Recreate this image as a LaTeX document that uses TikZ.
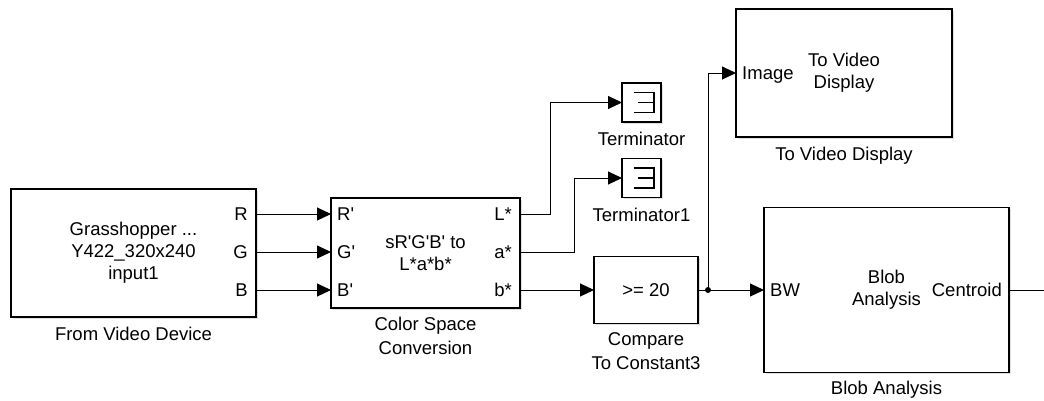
\documentclass[tikz,border=0pt]{standalone}
\usepackage{fontspec}
\setmainfont{Liberation Sans}
\usetikzlibrary{positioning, arrows.meta, shadows}
\newcommand{\qs}{\textquotesingle}

\begin{document}
\begin{tikzpicture}[x=1pt, y=-1pt, font=\fontsize{18.5}{22}\selectfont, node distance=9pt,
  block/.style={draw, line width=1.2pt, fill=white, inner sep=0pt, outer sep=0pt, align=center,
    drop shadow={shadow xshift=1.5pt, shadow yshift=-1.5pt, fill=black!25}},
  port/.style={inner sep=0pt, text height=13pt, text depth=0pt},
  caption/.style={inner sep=0pt, align=center, font=\fontsize{18.5}{23.5}\selectfont},
  sig/.style={line width=1pt, -{Triangle[length=14pt, width=13pt]}},
  wire/.style={line width=1pt}]
\useasboundingbox (0,0) rectangle (1044,400);
% source and colour conversion
\node[block, minimum width=245pt, minimum height=128pt] (fvd) at (133.5,253) {Grasshopper ...\\Y422\_320x240\\input1};
\node[caption, below=10pt of fvd] (fvdcap) {From Video Device};
\node[port, anchor=east] (fvdR) at (248,214) {R};
\node[port, anchor=east] (fvdG) at (248,252) {G};
\node[port, anchor=east] (fvdB) at (248,290) {B};
\node[block, minimum width=189pt, minimum height=110pt] (csc) at (425.5,253) {sR\qs G\qs B\qs{} to\\L*a*b*};
\node[caption, below=9pt of csc] (csccap) {Color Space\\Conversion};
\node[port, anchor=west] (cscR) at (337,214) {R\qs};
\node[port, anchor=west] (cscG) at (337,252) {G\qs};
\node[port, anchor=west] (cscB) at (337,290) {B\qs};
\node[port, anchor=east] (cscL) at (512,214) {L*};
\node[port, anchor=east] (csca) at (512,252) {a*};
\node[port, anchor=east] (cscb) at (512,290) {b*};
\draw[sig] (fvdR -| fvd.east) -- (cscR -| csc.west);
\draw[sig] (fvdG -| fvd.east) -- (cscG -| csc.west);
\draw[sig] (fvdB -| fvd.east) -- (cscB -| csc.west);
% terminators
\node[block, minimum width=39pt, minimum height=39pt] (term) at (641.5,102.5) {};
\node[caption, below=10pt of term] (termcap) {Terminator};
\node[block, minimum width=39pt, minimum height=39pt] (term1) at (641.5,178) {};
\node[caption, below=10pt of term1] (term1cap) {Terminator1};
\foreach \t in {term, term1} {
  \draw[line width=1.5pt] ([shift={(-8,-10)}]\t.center) -- ++(20.5,0) -- ++(0,20) -- ++(-20.5,0);
  \draw[line width=1.5pt] ([shift={(-4,0)}]\t.center) -- ++(16.5,0);
}
\draw[sig] (cscL -| csc.east) -- ++(30,0) |- (term.west);
\draw[sig] (csca -| csc.east) -- ++(54,0) |- (term1.west);
% threshold
\node[block, minimum width=104pt, minimum height=67pt] (cmp) at (646,290) {>= 20};
\node[caption, below=9pt of cmp] (cmpcap) {Compare\\To Constant3};
\draw[sig] (cscb -| csc.east) -- (cmp.west);
% display and blob analysis
\node[block, minimum width=216pt, minimum height=128pt] (tvd) at (844,73) {To Video\\Display};
\node[caption, below=10pt of tvd] (tvdcap) {To Video Display};
\node[port, anchor=west] (tvdI) at (742,73) {Image};
\node[block, minimum width=245pt, minimum height=165pt] (blob) at (886.5,290) {Blob\\Analysis};
\node[caption, below=8pt of blob] (blobcap) {Blob Analysis};
\node[port, anchor=west] (blobBW) at (770,290) {BW};
\node[port, anchor=east] (blobC) at (1002,290) {Centroid};
\coordinate (jn) at (708,290);
\coordinate (out) at (1044,290);
\draw[wire] (cmp.east) -- (jn);
\fill (jn) circle (3pt);
\draw[sig] (jn) -- (blobBW -| blob.west);
\draw[sig] (jn) |- (tvdI -| tvd.west);
\draw[wire] (blobC -| blob.east) -- (out);
\end{tikzpicture}
\end{document}
